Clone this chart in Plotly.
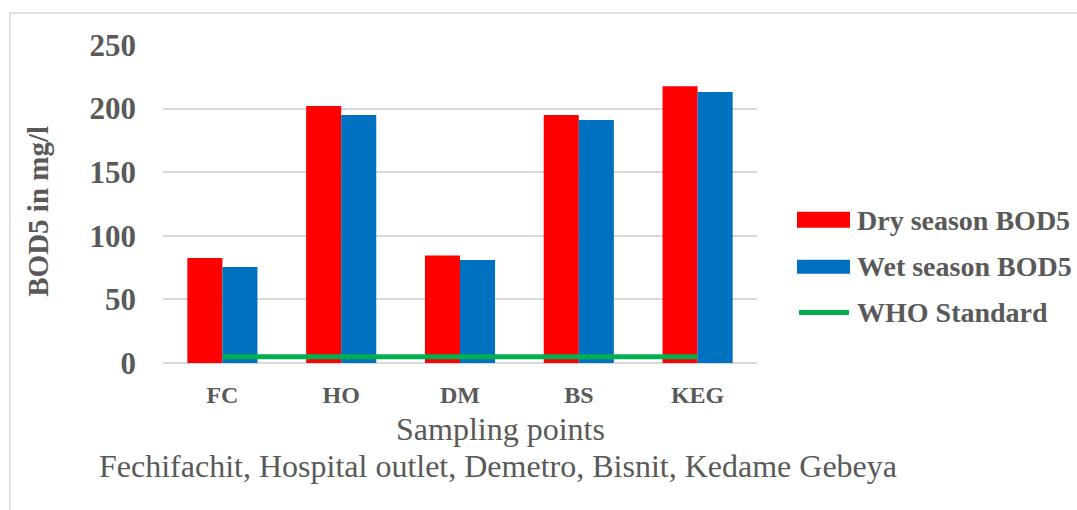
import plotly.graph_objects as go

# Sampling points and BOD5 readings (mg/l)
sites = ["FC", "HO", "DM", "BS", "KEG"]
dry_bod5 = [82.5, 202, 84.5, 195, 217.5]
wet_bod5 = [75.5, 195, 81, 191, 213]
who_standard = [5, 5, 5, 5, 5]
y_ticks = [0, 50, 100, 150, 200, 250]

RED = "#FF0000"
BLUE = "#0070C0"
GREEN = "#00B050"
TEXT = "#595959"
GRID = "#D9D9D9"
FONT = "Liberation Serif"

W, H = 1077, 510
ML, MR, MT, MB = 163, 320, 45, 146.5
PW, PH = W - ML - MR, H - MT - MB


def px(x):
    return (x - ML) / PW


def py(y):
    return (H - MB - y) / PH


fig = go.Figure()
fig.add_trace(go.Bar(x=sites, y=dry_bod5, name="Dry season BOD5",
                     marker=dict(color=RED, line=dict(width=0))))
fig.add_trace(go.Bar(x=sites, y=wet_bod5, name="Wet season BOD5",
                     marker=dict(color=BLUE, line=dict(width=0))))
fig.add_trace(go.Scatter(x=sites, y=who_standard, name="WHO Standard", mode="lines",
                         line=dict(color=GREEN, width=5)))

shapes = [
    # chart frame
    dict(type="rect", xref="paper", yref="paper", x0=px(10), x1=px(1095), y0=py(530), y1=py(13),
         line=dict(color=GRID, width=1.5), layer="below"),
    # legend keys
    dict(type="rect", xref="paper", yref="paper", x0=px(797), x1=px(850), y0=py(228), y1=py(212),
         fillcolor=RED, line=dict(width=0)),
    dict(type="rect", xref="paper", yref="paper", x0=px(797), x1=px(850), y0=py(274), y1=py(260),
         fillcolor=BLUE, line=dict(width=0)),
    dict(type="line", xref="paper", yref="paper", x0=px(799), x1=px(849), y0=py(313), y1=py(313),
         line=dict(color=GREEN, width=5)),
]

annotations = [
    dict(text="Dry season BOD5", x=px(855), y=py(221)),
    dict(text="Wet season BOD5", x=px(855), y=py(267)),
    dict(text="WHO Standard", x=px(855), y=py(313)),
]
annotations = [dict(a, xref="paper", yref="paper", xanchor="left", yanchor="middle", showarrow=False,
                    font=dict(family=FONT, size=28, color=TEXT, weight="bold")) for a in annotations]

annotations += [
    dict(text="BOD5 in mg/l", x=px(38), y=py(211), textangle=-90,
         font=dict(family=FONT, size=29, color=TEXT, weight="bold")),
    dict(text="Sampling points", x=px(500), y=py(430),
         font=dict(family=FONT, size=32, color=TEXT)),
    dict(text="Fechifachit, Hospital outlet, Demetro, Bisnit, Kedame Gebeya", x=px(498), y=py(467),
         font=dict(family=FONT, size=32, color=TEXT)),
]
for a in annotations[3:]:
    a.update(xref="paper", yref="paper", xanchor="center", yanchor="middle", showarrow=False)

fig.update_layout(
    width=W, height=H,
    margin=dict(l=ML, r=MR, t=MT, b=MB),
    paper_bgcolor="white", plot_bgcolor="white",
    barmode="group", bargap=0.41, bargroupgap=0,
    showlegend=False,
    shapes=shapes, annotations=annotations,
    xaxis=dict(showgrid=False, showline=False, ticks="", ticklabelstandoff=15,
               tickfont=dict(family=FONT, size=24, color=TEXT, weight="bold")),
    yaxis=dict(range=[0, 250], tickvals=y_ticks, showgrid=True, gridcolor=GRID, gridwidth=1.5,
               zeroline=True, zerolinecolor=GRID, zerolinewidth=1.5, showline=False, ticks="",
               ticklabelstandoff=26,
               tickfont=dict(family=FONT, size=31, color=TEXT, weight="bold")),
)

fig.write_html("out.html")
